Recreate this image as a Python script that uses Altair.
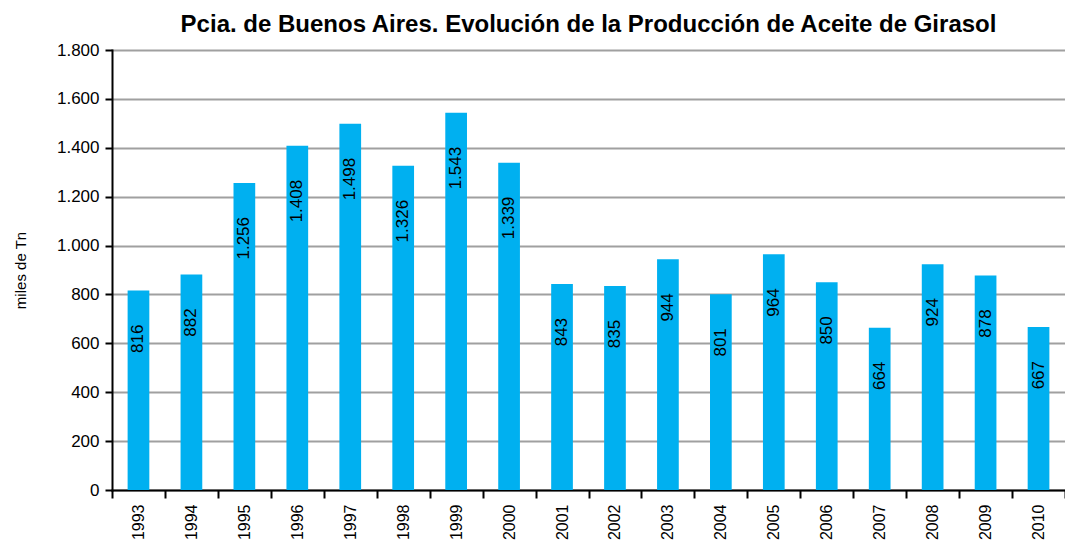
import altair as alt
import pandas as pd

years = ["1993", "1994", "1995", "1996", "1997", "1998", "1999", "2000", "2001",
         "2002", "2003", "2004", "2005", "2006", "2007", "2008", "2009", "2010"]
values = [816, 882, 1256, 1408, 1498, 1326, 1543, 1339, 843,
          835, 944, 801, 964, 850, 664, 924, 878, 667]

df = pd.DataFrame({"year": years, "value": values})

FONT = "Liberation Sans"

base = alt.Chart(df).encode(
    x=alt.X("year:N", sort=years,
            scale=alt.Scale(paddingInner=0, paddingOuter=0),
            axis=alt.Axis(title=None, labelAngle=270, labelFontSize=16,
                          labelFont=FONT, labelColor="black", labelPadding=6,
                          labelAlign="right", labelBaseline="middle",
                          domainColor="black", domainWidth=2,
                          tickBand="extent", tickColor="black", tickWidth=2,
                          tickSize=8, grid=False)),
)

bars = base.mark_bar(color="#00B0F0", width=alt.RelativeBandSize(0.41)).encode(
    y=alt.Y("value:Q", scale=alt.Scale(domain=[0, 1800]),
            axis=alt.Axis(title="miles de Tn", titleFont=FONT, titleFontSize=15,
                          titleFontWeight="normal", titleColor="black",
                          titlePadding=28,
                          values=list(range(0, 1801, 200)),
                          labelExpr="replace(format(datum.value, ','), ',', '.')",
                          labelFontSize=17, labelFont=FONT, labelColor="black",
                          labelPadding=6,
                          domainColor="black", domainWidth=2,
                          tickColor="black", tickWidth=2, tickSize=7,
                          grid=True, gridColor="#A0A0A0", gridWidth=2))
)

labels = base.transform_calculate(
    lab="replace(format(datum.value, ','), ',', '.')"
).mark_text(angle=270, align="right", baseline="middle", dx=-34,
            fontSize=17, font=FONT, color="black").encode(
    y=alt.Y("value:Q"),
    text="lab:N",
)

chart = alt.layer(bars, labels).properties(
    width=953, height=440,
    title=alt.TitleParams(
        "Pcia. de Buenos Aires. Evolución de la Producción de Aceite de Girasol",
        font=FONT, fontSize=24, fontWeight="bold", color="black",
        anchor="middle", offset=4),
    padding={"left": 104, "top": 42, "right": 0, "bottom": 51},
    autosize=alt.AutoSizeParams(type="none"),
).configure_view(stroke=None).configure_axis(domainCap="square")

chart.save("out.html", embed_options={"renderer": "svg", "actions": False})
